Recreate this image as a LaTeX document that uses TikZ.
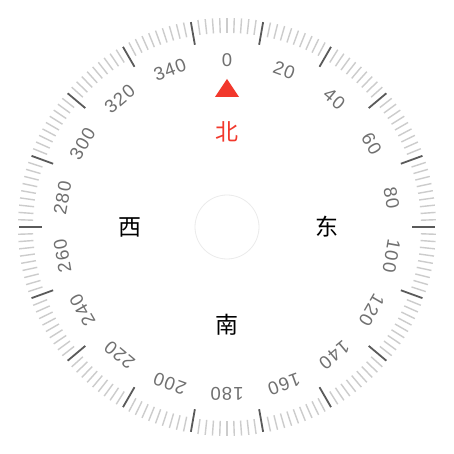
\documentclass[tikz,border=0pt]{standalone}
\usepackage{fontspec}
\setmainfont{Liberation Sans}
\newfontfamily\numfont[LetterSpace=6]{Liberation Sans}
\newfontfamily\cjk{Noto Sans CJK SC}
\definecolor{minortick}{HTML}{CCCCCC}
\definecolor{majortick}{HTML}{5A5A5A}
\definecolor{numgray}{HTML}{707070}
\definecolor{northred}{HTML}{F2382C}
\definecolor{ringgray}{HTML}{EBEBEB}
\begin{document}
\begin{tikzpicture}[x=1pt,y=1pt,
  minorstyle/.style={draw=minortick,line width=1.4pt},
  majorstyle/.style={draw=majortick,line width=1.8pt},
  numlabel/.style={text=numgray,font=\numfont\fontsize{18.5}{18.5}\selectfont,inner sep=0pt},
  dirlabel/.style={font=\cjk\fontsize{23}{23}\selectfont,inner sep=0pt}]
\useasboundingbox (-227,-227) rectangle (227,227);
\fill[white] (-227,-227) rectangle (227,227);
% minor ticks
\foreach \a in {0,2,...,358}{
  \pgfmathtruncatemacro{\m}{mod(\a,20)}
  \ifnum\m=10\relax\else
    \draw[minorstyle] (90-\a:194) -- (90-\a:209);
  \fi
}
% major ticks
\foreach \a in {10,30,...,350}{
  \draw[majorstyle] (90-\a:185) -- (90-\a:208);
}
% numbers
\foreach \a in {0,20,...,340}{
  \node[numlabel,rotate=-\a] (n\a) at (90-\a:167) {\a};
}
% centre ring
\node[draw=ringgray,line width=0.8pt,circle,minimum size=64pt,inner sep=0pt] (ring) at (0,0) {};
% north marker
\fill[northred] (0,148) -- (12,130) -- (-12,130) -- cycle;
% directions
\node[dirlabel,text=northred] (north) at (0,95) {北};
\node[dirlabel] (east) at (100,0) {东};
\node[dirlabel] (south) at (0,-98) {南};
\node[dirlabel] (west) at (-97,0) {西};
\end{tikzpicture}
\end{document}
